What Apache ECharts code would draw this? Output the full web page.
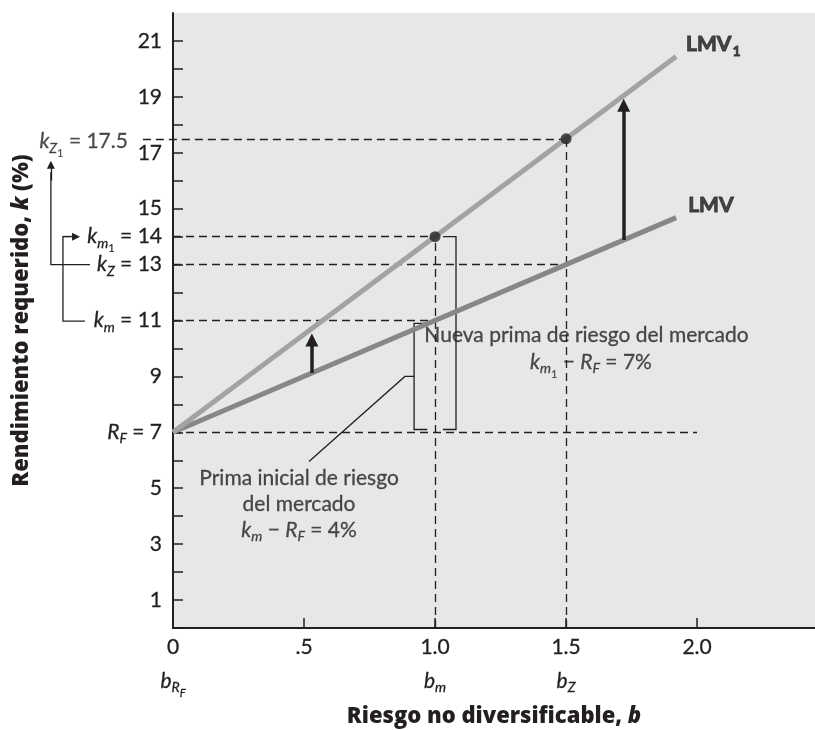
<!DOCTYPE html>
<html><head><meta charset="utf-8">
<script src="https://cdn.jsdelivr.net/npm/echarts@6/dist/echarts.min.js"></script>
<style>html,body{margin:0;padding:0;background:#fff}#c{width:815px;height:730px}</style>
</head><body><div id="c"></div>
<script>
// ---- data ----
const xTickValues = [0, 0.5, 1.0, 1.5, 2.0];
const xTickLabels = ['0', '.5', '1.0', '1.5', '2.0'];
const xSubLabels  = ['{i|b}{s|R}{sf|F}', '', '{i|b}{s|m}', '{i|b}{s|Z}', ''];
const yTickValues = [0,1,2,3,4,5,6,7,8,9,10,11,12,13,14,15,16,17,18,19,20,21];
const yLabelValues = [1,3,5,7,9,11,13,14,15,17,19,21];
const yLabelTexts = {
  7: '{i|R}{s|F}{n| = 7}',
  11: '{i|k}{s|m}{n| = 11}',
  13: '{i|k}{s|Z}{n| = 13}',
  14: '{i|k}{s|m}{s1|1}{n| = 14}'
};
const lineBeta = [0, 1.92];
const lmv  = [7, 14.68];   // LMV
const lmv1 = [7, 20.44];   // LMV1
const keyPoints = [[1.0, 14], [1.5, 17.5]];
const guideH = [[-0.115, 1.5, 17.5], [0, 1.0, 14], [0, 1.5, 13], [0, 1.0, 11], [0, 2.0, 7]]; // [x0,x1,y]
const guideV = [[1.0, 0, 14], [1.5, 0, 17.5]]; // [x,y0,y1]
const shiftArrows = [[0.53, 9.12, 10.30], [1.72, 13.88, 18.70]]; // [x, from, to]
const brackets = [
  [[0.97, 7.1], [0.92, 7.1], [0.92, 10.9], [0.97, 10.9]],
  [[1.03, 14], [1.08, 14], [1.08, 7.1], [1.03, 7.1]],
  [[0.92, 9.0], [0.885, 9.0], [0.519, 5.96]]
];
const connectors = [
  [[-0.317, 13], [-0.466, 13], [-0.466, 16.3]],
  [[-0.336, 10.98], [-0.42, 10.98], [-0.42, 14], [-0.39, 14]]
];
const connectorHeads = [
  [[-0.466, 16.0], [-0.466, 16.57]],
  [[-0.42, 14], [-0.370, 14]]
];
const notes = [
  {at: [-0.172, 17.4], pos: 'left',  text: '{i|k}{s|Z}{s1|1}{n| = 17.5}'},
  {at: [1.578, 10.46], pos: 'inside', text: '{n|Nueva prima de riesgo del mercado}'},
  {at: [1.595, 9.5],   pos: 'inside', text: '{i|k}{s|m}{s1|1}{n| − }{i|R}{s|F}{n| = 7%}'},
  {at: [0.481, 4.43],  pos: 'inside', text: '{n|Prima inicial de riesgo}\n{n|del mercado}\n{i|k}{s|m}{n| − }{i|R}{s|F}{n| = 4%}'},
  {at: [1.958, 20.89], pos: 'right', text: '{B|LMV}{Bs|1}'},
  {at: [1.966, 15.14], pos: 'right', text: '{B|LMV}'}
];

// ---- style ----
const INK = '#231f20';
const FONT = 'Lato, "Open Sans", sans-serif';
const BFONT = '"Open Sans", Lato, sans-serif';
const FS = 21;
const thick = {textBorderColor: INK, textBorderWidth: 0.3};
const mk = (o) => Object.assign({fontFamily: FONT, color: INK, lineHeight: 26}, thick, o);
const rich = {
  n:  mk({fontSize: FS}),
  i:  mk({fontSize: FS, fontStyle: 'italic'}),
  s:  mk({fontSize: 14, fontStyle: 'italic', padding: [13, 0, 0, 0]}),
  sf: mk({fontSize: 11, fontStyle: 'italic', padding: [24, 0, 0, 0]}),
  s1: mk({fontSize: 11, padding: [24, 0, 0, 0], textBorderWidth: 0.2}),
  B:  mk({fontSize: 21, fontWeight: 'bold', textBorderWidth: 1, lineHeight: null}),
  Bs: mk({fontSize: 14, fontWeight: 'bold', textBorderWidth: 0.8, padding: [14, 0, 0, 1], lineHeight: null})
};
const titleRich = {
  b:  {fontSize: 22, fontWeight: 800, fontFamily: BFONT, color: INK},
  bi: {fontSize: 22, fontWeight: 800, fontStyle: 'italic', fontFamily: BFONT, color: INK}
};

const chart = echarts.init(document.getElementById('c'), null, {renderer: 'canvas'});

const seg = (a, b) => ({coords: [a, b]});
const dashData = guideH.map(g => seg([g[0], g[2]], [g[1], g[2]]))
  .concat(guideV.map(g => seg([g[0], g[1]], [g[0], g[2]])));

const xRich = {};
Object.keys(rich).forEach(k => { xRich[k] = Object.assign({}, rich[k], {lineHeight: 34}); });

const option = {
  animation: false,
  backgroundColor: '#ffffff',
  grid: {left: 173, right: 0, top: 13, bottom: 102, show: true, backgroundColor: '#e6e7e9',
         borderWidth: 0, containLabel: false, outerBoundsMode: 'none'},
  xAxis: {
    type: 'value', min: 0, max: 2.45,
    name: '{b|Riesgo no diversificable, }{bi|b}',
    nameLocation: 'middle', nameGap: 78,
    nameTextStyle: {rich: titleRich},
    axisLine: {show: true, onZero: false, lineStyle: {color: INK, width: 2}},
    axisTick: {show: true, inside: true, length: 10, customValues: xTickValues, lineStyle: {color: INK, width: 1.5}},
    splitLine: {show: false},
    axisLabel: {
      customValues: xTickValues, margin: 2, lineHeight: 34,
      fontSize: FS, fontFamily: FONT, color: INK,
      formatter: v => {
        const idx = xTickValues.findIndex(t => Math.abs(t - v) < 1e-6);
        if (idx < 0) return '';
        const sub = xSubLabels[idx];
        return '{n|' + xTickLabels[idx] + '}' + (sub ? '\n' + sub : '');
      },
      rich: xRich
    }
  },
  yAxis: {
    type: 'value', min: 0, max: 22,
    name: '{b|Rendimiento requerido, }{bi|k}{b| (%)}',
    nameLocation: 'middle', nameGap: 140, nameRotate: 90,
    nameTextStyle: {rich: titleRich},
    axisLine: {show: true, onZero: false, lineStyle: {color: INK, width: 2}},
    axisTick: {show: true, inside: true, length: 10, customValues: yTickValues, lineStyle: {color: INK, width: 1.5}},
    splitLine: {show: false},
    axisLabel: {
      customValues: yLabelValues, margin: 11, fontSize: FS, fontFamily: FONT, color: INK,
      formatter: v => yLabelTexts[v] || ('{n|' + v + '}'),
      rich: rich
    }
  },
  series: [
    { // dashed guides
      type: 'lines', coordinateSystem: 'cartesian2d', clip: false, silent: true, z: 2,
      lineStyle: {color: INK, width: 1.3, type: [8, 5], opacity: 1},
      data: dashData
    },
    { // brackets and leader
      type: 'lines', coordinateSystem: 'cartesian2d', polyline: true, clip: false, silent: true, z: 2,
      lineStyle: {color: INK, width: 1.3, opacity: 1},
      data: brackets.map(c => ({coords: c}))
    },
    { // left connectors
      type: 'lines', coordinateSystem: 'cartesian2d', polyline: true, clip: false, silent: true, z: 2,
      lineStyle: {color: INK, width: 1.3, opacity: 1},
      data: connectors.map(c => ({coords: c}))
    },
    { // connector arrow heads
      type: 'lines', coordinateSystem: 'cartesian2d', clip: false, silent: true, z: 2,
      symbol: ['none', 'triangle'], symbolSize: 8,
      lineStyle: {color: INK, width: 1.3, opacity: 1},
      data: connectorHeads.map(c => ({coords: c}))
    },
    {
      name: 'LMV', type: 'line', z: 3, symbol: 'none', silent: true,
      lineStyle: {color: '#878787', width: 5},
      data: lineBeta.map((b, i) => [b, lmv[i]])
    },
    {
      name: 'LMV1', type: 'line', z: 3, symbol: 'none', silent: true,
      lineStyle: {color: '#a3a3a3', width: 5},
      data: lineBeta.map((b, i) => [b, lmv1[i]])
    },
    { // shift arrows
      type: 'lines', coordinateSystem: 'cartesian2d', clip: false, silent: true, z: 4,
      symbol: ['none', 'triangle'], symbolSize: 13,
      lineStyle: {color: INK, width: 3.5, opacity: 1},
      data: shiftArrows.map(a => seg([a[0], a[1]], [a[0], a[2]]))
    },
    {
      type: 'scatter', z: 5, symbolSize: 11, silent: true,
      itemStyle: {color: INK},
      data: keyPoints
    },
    { // text notes
      type: 'scatter', z: 6, symbolSize: 0, clip: false, silent: true,
      data: notes.map(n => ({
        value: n.at,
        label: {show: true, position: n.pos, distance: 0, formatter: n.text, rich: rich, align: n.pos === 'inside' ? 'center' : undefined}
      }))
    }
  ]
};
chart.setOption(option);
</script>
</body></html>
